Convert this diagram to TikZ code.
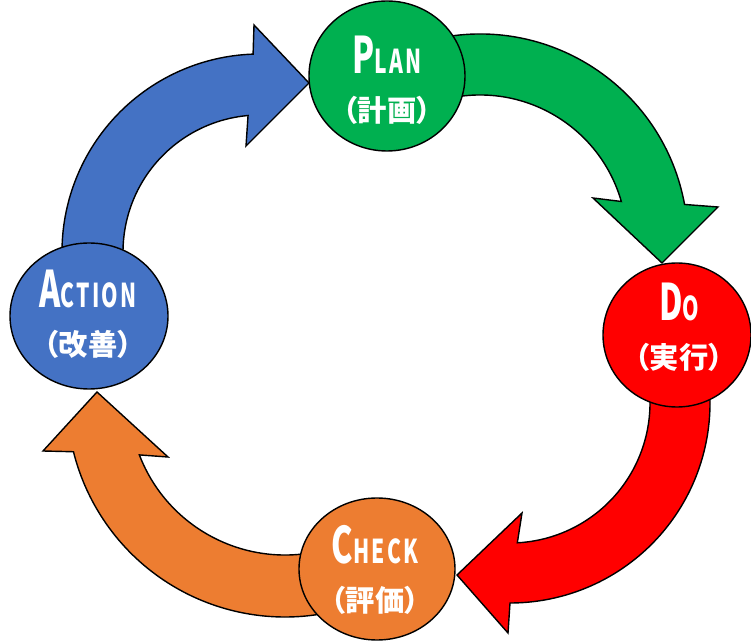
\documentclass[tikz,border=0pt]{standalone}
\usepackage{fontspec}
\usepackage{tikz}
\usetikzlibrary{calc,shapes.geometric}
\newfontfamily\latnfont[FakeStretch=0.64,LetterSpace=7]{Noto Sans CJK JP}
\newfontfamily\jpfont[RawFeature=+palt]{Noto Sans CJK JP}
\definecolor{pgreen}{HTML}{00B050}
\definecolor{pred}{HTML}{FF0000}
\definecolor{pblue}{HTML}{4472C4}
\definecolor{porange}{HTML}{ED7D31}
\newcommand{\pdcaword}[2]{{\latnfont\bfseries\fontsize{43pt}{43pt}\selectfont #1}{\latnfont\bfseries\fontsize{28pt}{28pt}\selectfont #2}}
\def\px{0.03cm}
\tikzset{
  band/.style={draw=black, line width=1.2pt, line join=miter},
  disc/.style={ellipse, draw=black, line width=1.2pt, fill=#1, inner sep=0pt},
  word/.style={text=white, align=center, inner sep=0pt,
    font=\jpfont\bfseries\fontsize{25pt}{41pt}\selectfont},
}

\begin{document}
\begin{tikzpicture}[x=\px,y=\px]
  \useasboundingbox (0,0) rectangle (751,641);
  % centres of the four bands
  \coordinate (Cg) at (480,399);
  \coordinate (Cr) at (510,238);
  \coordinate (Co) at (285,242);
  \coordinate (Cb) at (260,389);

  % PLAN -> DO
  \draw[band,fill=pgreen] ($(Cg)+(100:208)$) arc[start angle=100,end angle=10.4,radius=208]
    -- (718,434) -- (662,378) -- (593,443)
    -- ($(Cg)+(16:147)$) arc[start angle=16,end angle=100,radius=147] -- cycle;
  % DO -> CHECK
  \draw[band,fill=pred] ($(Cr)+(10:200)$) arc[start angle=10,end angle=-90,radius=200]
    -- (508,8) -- (457,66) -- (522,128)
    -- ($(Cr)+(-87:140)$) arc[start angle=-87,end angle=10,radius=140] -- cycle;
  % CHECK -> ACTION
  \draw[band,fill=porange] ($(Co)+(285:218)$) arc[start angle=285,end angle=194,radius=218]
    -- (43,190) -- (97,249) -- (168,184)
    -- ($(Co)+(201:156)$) arc[start angle=201,end angle=285,radius=156] -- cycle;
  % ACTION -> PLAN
  \draw[band,fill=pblue] ($(Cb)+(190:198)$) arc[start angle=190,end angle=92,radius=198]
    -- (254,616) -- (309,558) -- (246,495)
    -- ($(Cb)+(95:137)$) arc[start angle=95,end angle=190,radius=137] -- cycle;

  \node[disc=pgreen, minimum width=156*\px, minimum height=150*\px] (plan) at (387,565) {};
  \node[disc=pred, minimum width=148*\px, minimum height=144*\px] (do) at (677,306) {};
  \node[disc=porange, minimum width=156*\px, minimum height=142*\px] (check) at (377,72) {};
  \node[disc=pblue, minimum width=158*\px, minimum height=146*\px] (act) at (89,325) {};

  \node[word] (plan-t) at (387,561) {\pdcaword{P}{LAN}\\（計画）};
  \node[word] (do-t) at (679,314) {\pdcaword{D}{O}\\（実行）};
  \node[word] (check-t) at (375,71.5) {\pdcaword{C}{HECK}\\（評価）};
  \node[word] (act-t) at (88,326.5) {\pdcaword{A}{CTION}\\（改善）};
\end{tikzpicture}
\end{document}
